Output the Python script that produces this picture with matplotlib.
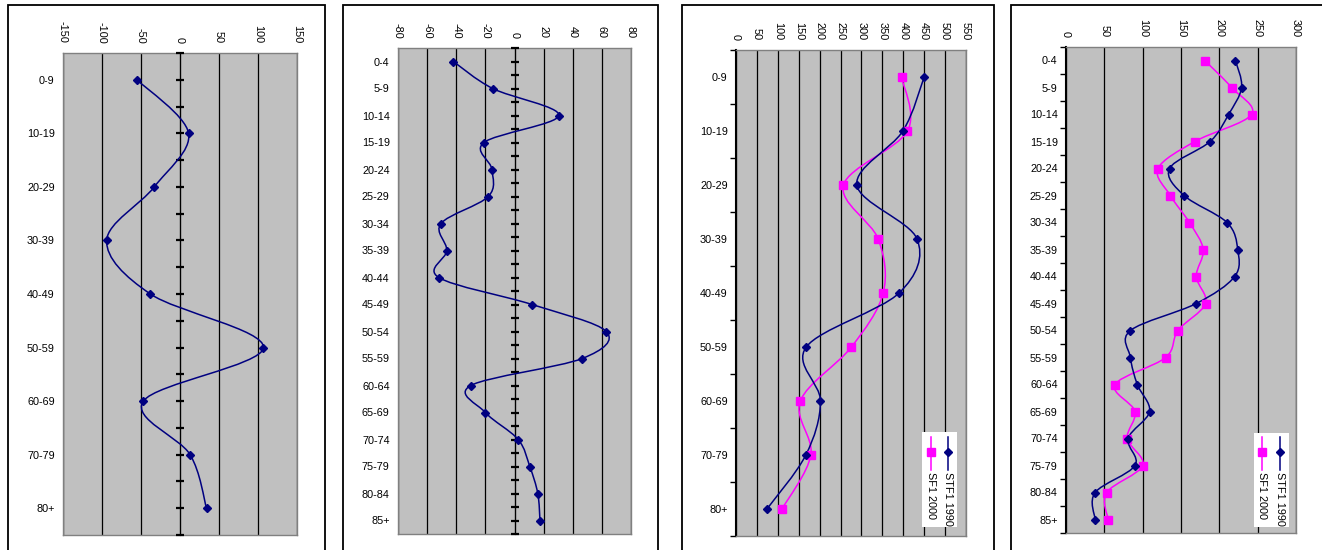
import numpy as np
import matplotlib
matplotlib.use("Agg")
import matplotlib.pyplot as plt
from matplotlib.path import Path
from matplotlib.patches import PathPatch, Rectangle

plt.rcParams['font.family'] = ['Liberation Sans', 'DejaVu Sans']
plt.rcParams['axes.unicode_minus'] = False

# ---------------- data ----------------
cats10 = ['0-9', '10-19', '20-29', '30-39', '40-49', '50-59', '60-69', '70-79', '80+']
cats5 = ['0-4', '5-9', '10-14', '15-19', '20-24', '25-29', '30-34', '35-39', '40-44',
         '45-49', '50-54', '55-59', '60-64', '65-69', '70-74', '75-79', '80-84', '85+']

diff10 = [-55, 11, -33, -94, -38, 107, -47, 13, 34]
diff5 = [-42, -15, 30.5, -21, -15.5, -18, -50.5, -46.5, -52, 12, 63, 46.5, -30, -20,
         2.5, 10.5, 16, 17.5]

stf1990_10 = [450, 399, 289, 433, 390, 168, 202, 167, 74]
sf2000_10 = [396, 410, 257, 340, 352, 276, 154, 179, 110]

stf1990_5 = [221, 229, 212, 188, 135, 154, 210, 224, 220, 170, 84, 84, 93, 109,
             81, 90, 38, 38]
sf2000_5 = [181, 216, 242, 168, 120, 136, 161, 179, 170, 182, 146, 130, 64, 90,
            80, 100, 53, 55]

ticks_p1 = [-150, -100, -50, 0, 50, 100, 150]
ticks_p2 = [-80, -60, -40, -20, 0, 20, 40, 60, 80]
ticks_p3 = list(range(0, 551, 50))
ticks_p4 = list(range(0, 301, 50))

NAVY = '#000080'
MAGENTA = '#FF00FF'
FS = 7.8

W, H = 1322, 550
fig = plt.figure(figsize=(W / 100, H / 100), dpi=100)
fig.patch.set_facecolor('white')


def px_axes(l, r, t, b):
    return fig.add_axes([l / W, 1 - b / H, (r - l) / W, (b - t) / H])


def frame(l, r, t):
    fig.add_artist(Rectangle((l / W, -0.1), (r - l) / W, 1 - t / H + 0.1,
                             transform=fig.transFigure, fill=False,
                             ec='black', lw=1.3, clip_on=False))


def smooth_path(xs, ys):
    pts = np.column_stack([np.asarray(xs, float), np.asarray(ys, float)])
    n = len(pts)
    verts = [pts[0]]
    codes = [Path.MOVETO]
    for i in range(n - 1):
        p0 = pts[i - 1] if i > 0 else pts[i]
        p1 = pts[i]
        p2 = pts[i + 1]
        p3 = pts[i + 2] if i + 2 < n else pts[i + 1]
        c1 = p1 + (p2 - p0) / 6.0
        c2 = p2 - (p3 - p1) / 6.0
        verts += [c1, c2, p2]
        codes += [Path.CURVE4] * 3
    return Path(verts, codes)


def draw_series(ax, vals, color, marker, ms):
    pos = np.arange(len(vals))
    ax.add_patch(PathPatch(smooth_path(vals, pos), fill=False, ec=color,
                           lw=1.1, zorder=4))
    ax.plot(vals, pos, ls='none', marker=marker, ms=ms, color=color,
            mec=color, zorder=5)


def base_axes(ax, cats, ticks):
    n = len(cats)
    ax.set_facecolor('#C0C0C0')
    ax.set_xlim(ticks[0], ticks[-1])
    ax.set_ylim(n - 0.5, -0.5)
    ax.xaxis.tick_top()
    ax.set_xticks(ticks)
    ax.set_xticklabels([str(t) for t in ticks])
    ax.tick_params(axis='x', length=0, pad=7, labelrotation=-90, labelsize=FS)
    ax.set_yticks(range(n))
    ax.set_yticklabels(cats)
    ax.tick_params(axis='y', length=0, pad=6, labelsize=FS)
    ax.set_axisbelow(True)
    ax.grid(axis='x', color='black', lw=0.9)
    ax.grid(axis='y', visible=False)
    for s in ax.spines.values():
        s.set_color('#808080')
        s.set_linewidth(1.0)


def zero_axis(ax, n):
    sec = ax.secondary_yaxis(0.5)
    sec.set_yticks(np.arange(0, n, 0.5) - 0.5 if False else np.arange(-0.5, n, 0.5))
    sec.tick_params(direction='inout', length=6, width=1.6, color='black',
                    labelleft=False, labelright=False)
    sec.spines['left'].set_linewidth(2.4)
    sec.spines['left'].set_color('black')
    sec.set_zorder(3)
    return sec


def left_axis(ax, n):
    ax.spines['left'].set_color('black')
    ax.spines['left'].set_linewidth(1.5)
    ax.set_yticks(np.arange(-0.5, n, 1.0), minor=True)
    ax.tick_params(axis='y', which='minor', direction='out', length=4,
                   width=1.0, color='black')


def legend_box(ax, x0, x1, y0, y1, xs1, xs2, ly0, ly1, lm, ty):
    ax.add_patch(Rectangle((x0, y0), x1 - x0, y1 - y0, transform=ax.transAxes,
                           fc='white', ec='none', zorder=6))
    for xx, col, mk, ms, lab in [(xs1, NAVY, 'D', 4.5, 'STF1 1990'),
                                 (xs2, MAGENTA, 's', 5.5, 'SF1 2000')]:
        ax.plot([xx, xx], [ly0, ly1], color=col, lw=1.1, transform=ax.transAxes,
                zorder=7, clip_on=False)
        ax.plot([xx], [lm], marker=mk, ms=ms, color=col, ls='none',
                transform=ax.transAxes, zorder=8, clip_on=False)
        ax.text(xx, ty, lab, rotation=-90, ha='center', va='top', fontsize=FS,
                transform=ax.transAxes, zorder=8)


# frames
frame(8, 325, 5)
frame(343, 658, 5)
frame(682, 994, 5)
frame(1011, 1340, 5)

# Panel 1
ax1 = px_axes(63, 297, 53, 535)
base_axes(ax1, cats10, ticks_p1)
zero_axis(ax1, len(cats10))
draw_series(ax1, diff10, NAVY, 'D', 4.5)

# Panel 2
ax2 = px_axes(398, 631, 48, 534)
base_axes(ax2, cats5, ticks_p2)
zero_axis(ax2, len(cats5))
draw_series(ax2, diff5, NAVY, 'D', 4.5)

# Panel 3
ax3 = px_axes(736, 966, 50, 536)
base_axes(ax3, cats10, ticks_p3)
left_axis(ax3, len(cats10))
draw_series(ax3, sf2000_10, MAGENTA, 's', 5.5)
draw_series(ax3, stf1990_10, NAVY, 'D', 4.5)
legend_box(ax3, 0.809, 0.961, 0.0185, 0.214, 0.922, 0.848, 0.204, 0.136, 0.173, 0.132)

# Panel 4
ax4 = px_axes(1066, 1296, 47, 533)
base_axes(ax4, cats5, ticks_p4)
left_axis(ax4, len(cats5))
draw_series(ax4, sf2000_5, MAGENTA, 's', 5.5)
draw_series(ax4, stf1990_5, NAVY, 'D', 4.5)
legend_box(ax4, 0.817, 0.970, 0.0123, 0.206, 0.930, 0.852, 0.198, 0.130, 0.167, 0.126)

fig.savefig('out.png', dpi=100, facecolor='white')
